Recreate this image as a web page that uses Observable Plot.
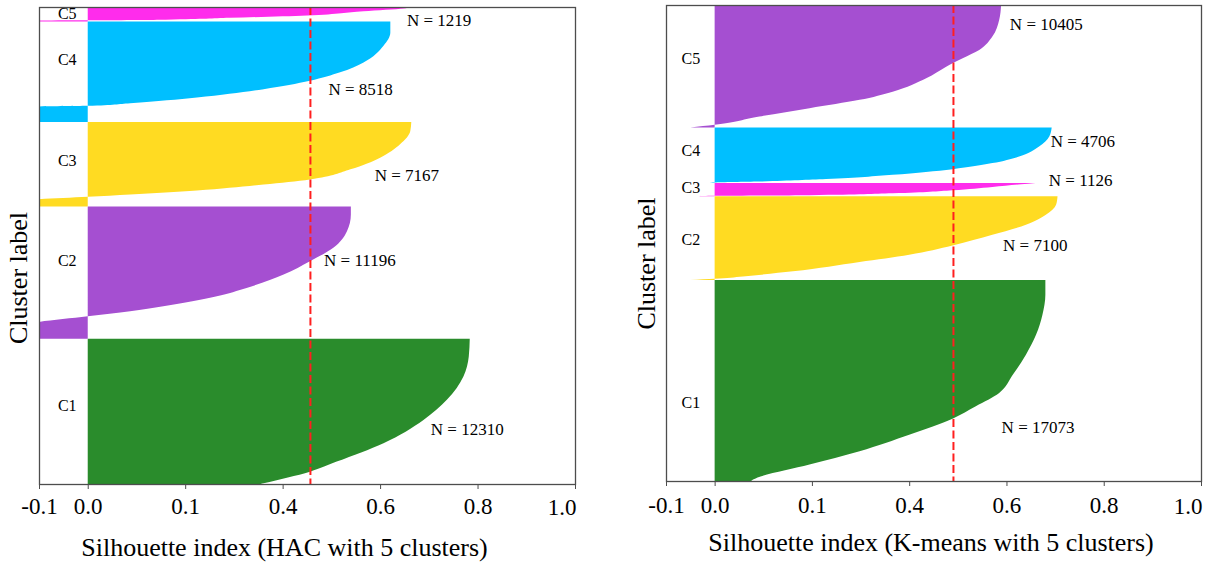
<!DOCTYPE html>
<html>
<head>
<meta charset="utf-8">
<script src="https://cdn.jsdelivr.net/npm/d3@7"></script>
<script src="https://cdn.jsdelivr.net/npm/@observablehq/plot@0.6"></script>
<style>
  html, body { margin: 0; padding: 0; background: #fff; }
  body { width: 1211px; height: 563px; overflow: hidden; position: relative; font-family: "Liberation Serif", serif; }
  .panel { position: absolute; top: 0; }
  .panel svg { max-width: none !important; }
</style>
</head>
<body>
<div id="left" class="panel" style="left:0px;width:600px"></div>
<div id="right" class="panel" style="left:610px;width:601px"></div>
<script>
// ---------------- data ----------------
// x axis ticks (the source labels the 0.2 tick as "0.1")
const tickValues = [-0.1, 0.0, 0.2, 0.4, 0.6, 0.8, 1.0];
const tickLabels = ["-0.1", "0.0", "0.1", "0.4", "0.6", "0.8", "1.0"];

// clusters, listed top to bottom
const clusterNames = ["C5", "C4", "C3", "C2", "C1"];

// HAC panel
const hacSizes = [1219, 8518, 7167, 11196, 12310];
const hacMean = 0.456;
// silhouette profiles: [fraction of cluster rank, silhouette value]
const hacC5 = [[0,0.66],[0.11,0.648],[0.3,0.566],[0.59,0.45],[0.755,0.292],[0.88,0.16],[0.92,0],[0.94,-0.15],[1,-0.2]];
const hacC4 = [[0,0.621],[0.11,0.621],[0.242,0.607],[0.408,0.566],[0.507,0.518],[0.591,0.456],[0.674,0.361],[0.757,0.224],[0.814,0.087],[0.84,0],[0.85,-0.15],[1,-0.3]];
const hacC3 = [[0,0.664],[0.107,0.662],[0.264,0.641],[0.422,0.6],[0.56,0.539],[0.679,0.456],[0.739,0.361],[0.81,0.224],[0.858,0.087],[0.885,0],[0.913,-0.1],[0.93,-0.15],[1,-0.3]];
const hacC2 = [[0,0.54],[0.06,0.54],[0.187,0.532],[0.312,0.504],[0.414,0.456],[0.515,0.402],[0.616,0.326],[0.679,0.265],[0.755,0.155],[0.793,0.087],[0.831,0],[0.873,-0.1],[0.9,-0.15],[1,-0.3]];
const hacC1 = [[0,0.784],[0.122,0.782],[0.26,0.771],[0.421,0.737],[0.559,0.689],[0.719,0.607],[0.846,0.511],[0.915,0.456],[0.995,0.361],[1,0.355]];
const hacLabelFrac = [0.47, 0.38, 0.46, 0.41, 0.46];
const hacNLabelX = [0.654, 0.493, 0.588, 0.484, 0.703];
const hacNLabelIndex = [1122, 6926, 14210, 21459, 35736];

// K-means panel
const kmSizes = [10405, 4706, 1126, 7100, 17073];
const kmMean = 0.49;
const kmC5 = [[0,0.589],[0.122,0.585],[0.258,0.571],[0.367,0.544],[0.434,0.51],[0.475,0.489],[0.503,0.476],[0.597,0.435],[0.707,0.366],[0.774,0.298],[0.842,0.195],[0.91,0.092],[0.978,0],[1,-0.05]];
const kmC4 = [[0,0.693],[0.162,0.688],[0.342,0.667],[0.523,0.626],[0.641,0.571],[0.75,0.489],[0.852,0.366],[0.93,0.229],[0.973,0.092],[0.991,0],[1,-0.009]];
const kmC3 = [[0,0.66],[0.1,0.63],[0.3,0.571],[0.55,0.489],[0.78,0.366],[0.92,0.195],[0.97,0],[1,-0.032]];
const kmC2 = [[0,0.705],[0.102,0.702],[0.221,0.681],[0.341,0.64],[0.46,0.571],[0.588,0.489],[0.699,0.4],[0.786,0.298],[0.898,0.161],[0.958,0.058],[0.986,0],[1,-0.05]];
const kmC1 = [[0,0.68],[0.074,0.68],[0.173,0.674],[0.272,0.661],[0.372,0.64],[0.472,0.613],[0.562,0.585],[0.628,0.537],[0.69,0.489],[0.77,0.4],[0.852,0.298],[0.918,0.195],[0.993,0.079],[1,0.075]];
const kmLabelFrac = [0.434, 0.414, 0.34, 0.51, 0.61];
const kmNLabelX = [0.606, 0.690, 0.686, 0.592, 0.589];
const kmNLabelIndex = [1611, 11508, 14900, 20413, 35813];

// ---------------- styles ----------------
const hacPalette = ["#ff2cec", "#00bfff", "#ffdb22", "#a54fd1", "#2a8c2c"];
const kmPalette  = ["#a54fd1", "#00bfff", "#ff2cec", "#ffdb22", "#2a8c2c"];
const FONT = "Liberation Serif, serif";
const GRAY = "#4d4d4d";

function buildRows(names, sizes, profiles) {
  const rows = [];
  let start = 0;
  names.forEach((name, k) => {
    for (const [f, v] of profiles[k]) rows.push({cluster: name, index: start + f * sizes[k], value: v});
    start += sizes[k];
  });
  return rows;
}

function panel(o) {
  const total = d3.sum(o.sizes);
  const starts = [0, ...d3.cumsum(o.sizes)];
  const rows = buildRows(clusterNames, o.sizes, o.profiles);
  const clusterLabels = clusterNames.map((n, k) => ({text: n, index: starts[k] + o.labelFrac[k] * o.sizes[k]}));
  const nLabels = o.sizes.map((s, k) => ({text: `N = ${s}`, x: o.nX[k], index: o.nIndex[k]}));
  const lastTick = tickValues[tickValues.length - 1];
  return Plot.plot({
    width: o.width,
    height: 563,
    marginLeft: o.ml, marginRight: o.mr, marginTop: o.mt, marginBottom: o.mb,
    x: {domain: [-0.1, 1.0], axis: null},
    y: {domain: [0, total], reverse: true, axis: null},
    color: {domain: clusterNames, range: o.palette},
    style: {fontFamily: FONT, background: "white", overflow: "visible"},
    marks: [
      Plot.areaX(rows, {y: "index", x1: 0, x2: "value", z: "cluster", fill: "cluster", curve: "monotone-y", clip: true}),
      Plot.ruleX([o.mean], {stroke: "#ff1f1f", strokeWidth: 2, strokeDasharray: "8,3.5"}),
      Plot.frame({stroke: GRAY, strokeWidth: 1.3}),
      Plot.axisX({
        ticks: tickValues, tickSize: 5, tickPadding: o.tickPad, fontSize: 23,
        stroke: GRAY, fill: "black", label: null,
        tickFormat: d => (d === lastTick ? "" : tickLabels[tickValues.indexOf(d)])
      }),
      Plot.text([lastTick], {x: d => d, frameAnchor: "bottom", dy: o.tickLabelDy, dx: 1, textAnchor: "end", lineAnchor: "middle",
        text: () => tickLabels[tickLabels.length - 1], fontSize: 23, fill: "black"}),
      Plot.text(clusterLabels, {x: o.labelX, y: "index", text: "text", fontSize: 16, fill: "black"}),
      Plot.text(nLabels, {x: "x", y: "index", text: "text", textAnchor: "start", fontSize: 17, fill: "black"}),
      Plot.text(["Cluster label"], {frameAnchor: "left", textAnchor: "middle", lineAnchor: "middle", rotate: -90,
        dx: o.yLabelDx, dy: o.yLabelDy, fontSize: 26, fill: "black"}),
      Plot.text([o.title], {frameAnchor: "bottom", textAnchor: "middle", lineAnchor: "middle",
        dx: o.titleDx, dy: o.titleDy, fontSize: 26, fill: "black"})
    ]
  });
}

document.getElementById("left").append(panel({
  width: 600, ml: 39, mr: 25, mt: 7, mb: 79,
  sizes: hacSizes, profiles: [hacC5, hacC4, hacC3, hacC2, hacC1], palette: hacPalette,
  mean: hacMean, labelFrac: hacLabelFrac, labelX: -0.043, nX: hacNLabelX, nIndex: hacNLabelIndex,
  tickPad: 8, tickLabelDy: 23, yLabelDx: -21, yLabelDy: 32,
  title: "Silhouette index (HAC with 5 clusters)", titleDx: -23, titleDy: 63
}));

document.getElementById("right").append(panel({
  width: 601, ml: 56, mr: 10, mt: 5, mb: 82,
  sizes: kmSizes, profiles: [kmC5, kmC4, kmC3, kmC2, kmC1], palette: kmPalette,
  mean: kmMean, labelX: -0.05, labelFrac: kmLabelFrac, nX: kmNLabelX, nIndex: kmNLabelIndex,
  tickPad: 10, tickLabelDy: 25.5, yLabelDx: -20, yLabelDy: 20,
  title: "Silhouette index (K-means with 5 clusters)", titleDx: -3, titleDy: 61
}));
</script>
</body>
</html>
